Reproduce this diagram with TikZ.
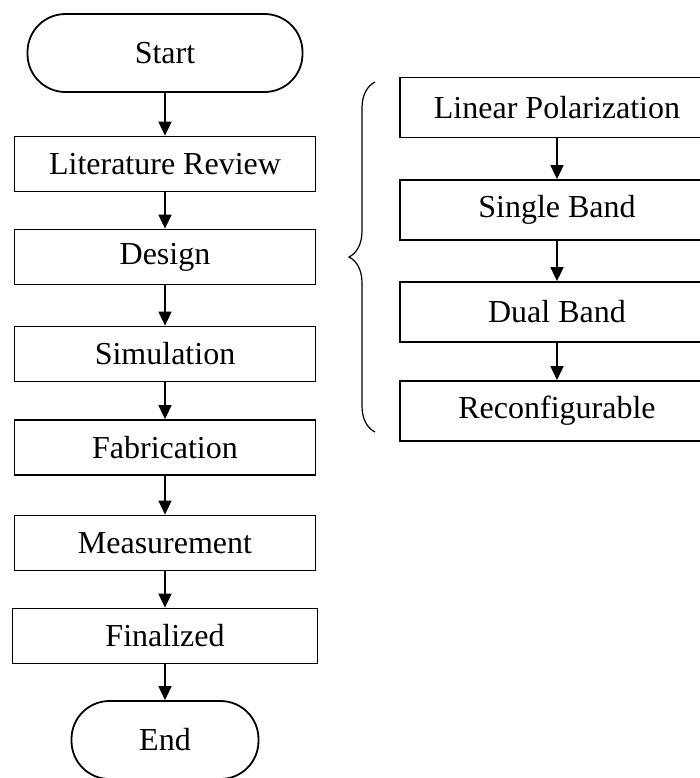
\documentclass[tikz,border=0pt]{standalone}
\usepackage{fontspec}
\setmainfont{Liberation Serif}
\usetikzlibrary{arrows.meta, decorations.pathreplacing, positioning}

\begin{document}
\begin{tikzpicture}[x=0.5pt, y=-0.5pt,
    font=\fontsize{16}{19}\selectfont,
    box/.style={draw, line width=0.9pt, minimum width=150.5pt, minimum height=27.5pt, inner sep=0pt},
    sidebox/.style={box, minimum width=157pt, minimum height=30pt},
    term/.style={draw, line width=0.9pt, rounded corners=19pt, minimum height=39pt, inner sep=0pt},
    arr/.style={line width=0.9pt, -{Triangle[length=7pt, width=6.5pt]}}]
    \clip (0,0) rectangle (700,778);

    % Main flow
    \node[term, minimum width=137.5pt] (start) at (165,53) {Start};
    \node[box] (lit) at (165,164) {Literature Review};
    \node[box] (design) at (165,257) {Design};
    \node[box] (sim) at (165,354) {Simulation};
    \node[box] (fab) at (165,447.5) {Fabrication};
    \node[box] (meas) at (165,543) {Measurement};
    \node[box, minimum width=152.5pt] (final) at (165,636) {Finalized};
    \node[term, minimum width=93.5pt] (end) at (165,740) {End};

    % Design options
    \node[sidebox] (lin) at (557,107.5) {Linear Polarization};
    \node[sidebox] (single) at (557,210) {Single Band};
    \node[sidebox] (dual) at (557,312) {Dual Band};
    \node[sidebox] (reconf) at (557,411) {Reconfigurable};

    % Arrows
    \draw[arr] (start) -- (lit);
    \draw[arr] (lit) -- (design);
    \draw[arr] (design) -- (sim);
    \draw[arr] (sim) -- (fab);
    \draw[arr] (fab) -- (meas);
    \draw[arr] (meas) -- (final);
    \draw[arr] (final) -- (end);
    \draw[arr] (lin) -- (single);
    \draw[arr] (single) -- (dual);
    \draw[arr] (dual) -- (reconf);

    % Brace
    \draw[line width=0.6pt, decorate, decoration={brace, amplitude=13pt}]
        (375,432) -- (375,82);
\end{tikzpicture}
\end{document}
